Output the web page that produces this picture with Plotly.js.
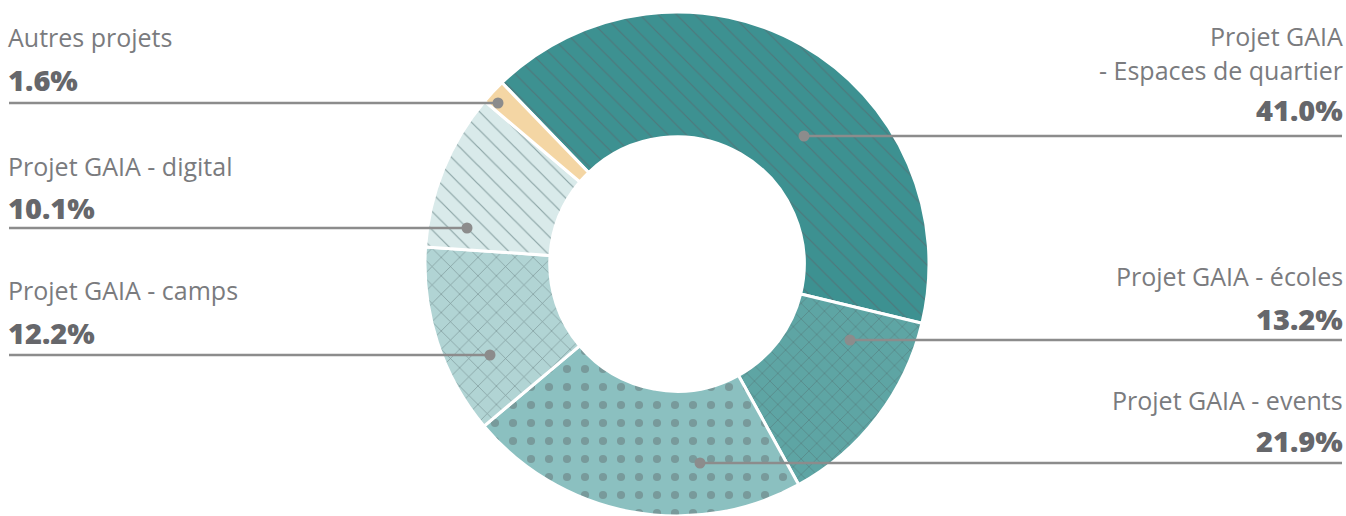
<!DOCTYPE html>
<html>
<head>
<meta charset="utf-8">
<script src="https://cdn.plot.ly/plotly-3.0.1.min.js"></script>
<style>html,body{margin:0;padding:0;background:#fff;}#chart{width:1346px;height:516px;}</style>
</head>
<body>
<div id="chart"></div>
<script>
// ---- data ----
var categories = ['Projet GAIA - Espaces de quartier', 'Projet GAIA - écoles', 'Projet GAIA - events', 'Projet GAIA - camps', 'Projet GAIA - digital', 'Autres projets'];
var shares = [41.0, 13.2, 21.9, 12.2, 10.1, 1.6];
var labelLines = [['Projet GAIA', '- Espaces de quartier'], ['Projet GAIA - écoles'], ['Projet GAIA - events'], ['Projet GAIA - camps'], ['Projet GAIA - digital'], ['Autres projets']];

// ---- styles ----
var sliceColors = ['#3d9191', '#5ea5a4', '#8bc0c0', '#b1d4d4', '#d9eaea', '#f4d6a4'];
var patShapes = ['\\', 'x', '.', 'x', '\\', ''];
var patFg = ['#4f777b', '#557b7d', '#789a9b', '#7a9496', '#8aa3a4', '#f4d6a4'];
var patSize = [13, 11, 18, 13, 13, 8];
var patSolid = [0.09, 0.1, 0.16, 0.1, 0.09, 0.1];

var W = 1346, H = 516;
function px(x) { return x / W; }
function py(y) { return 1 - y / H; }

var layoutInfo = [
  {side: 'right', labelY: [36, 70], pctY: 110, lineY: 136, dotX: 804},
  {side: 'right', labelY: [276], pctY: 318, lineY: 340, dotX: 850},
  {side: 'right', labelY: [400], pctY: 440, lineY: 463, dotX: 700},
  {side: 'left', labelY: [290], pctY: 332, lineY: 355, dotX: 490},
  {side: 'left', labelY: [166], pctY: 207, lineY: 228, dotX: 467},
  {side: 'left', labelY: [37], pctY: 79, lineY: 103, dotX: 498}
];

var labelFont = {family: 'Open Sans, sans-serif', size: 25, color: '#7a7b7e'};
var pctFont = {family: 'Open Sans, sans-serif', size: 29, color: '#66676b', weight: 800};
var lineColor = '#8c8c8c';

var annotations = [], shapes = [];
categories.forEach(function (c, i) {
  var L = layoutInfo[i];
  var right = L.side === 'right';
  var tx = right ? px(1344) : px(7);
  labelLines[i].forEach(function (t, k) {
    annotations.push({xref: 'paper', yref: 'paper', x: tx, y: py(L.labelY[k]), xanchor: right ? 'right' : 'left', yanchor: 'middle', text: t, showarrow: false, font: labelFont, borderpad: 0});
  });
  annotations.push({xref: 'paper', yref: 'paper', x: tx, y: py(L.pctY), xanchor: right ? 'right' : 'left', yanchor: 'middle', text: shares[i].toFixed(1) + '%', showarrow: false, font: pctFont, borderpad: 0});
  shapes.push({type: 'line', xref: 'paper', yref: 'paper', x0: right ? px(L.dotX) : px(9), x1: right ? px(1342) : px(L.dotX), y0: py(L.lineY), y1: py(L.lineY), line: {color: lineColor, width: 2.5}});
  shapes.push({type: 'circle', xref: 'paper', yref: 'paper', x0: px(L.dotX - 5.5), x1: px(L.dotX + 5.5), y0: py(L.lineY + 5.5), y1: py(L.lineY - 5.5), fillcolor: lineColor, line: {width: 0}});
});

var trace = {
  type: 'pie',
  labels: categories,
  values: shares,
  sort: false,
  direction: 'clockwise',
  rotation: -44,
  hole: 0.505,
  textinfo: 'none',
  hoverinfo: 'label+percent',
  showlegend: false,
  domain: {x: [px(677 - 252), px(677 + 252)], y: [0, py(12)]},
  marker: {
    colors: sliceColors,
    line: {color: '#ffffff', width: 3},
    pattern: {shape: patShapes, fgcolor: patFg, bgcolor: sliceColors, size: patSize, solidity: patSolid, fillmode: 'replace'}
  }
};

var layout = {
  width: W, height: H,
  margin: {l: 0, r: 0, t: 0, b: 0},
  paper_bgcolor: '#ffffff',
  plot_bgcolor: '#ffffff',
  annotations: annotations,
  shapes: shapes
};

Plotly.newPlot('chart', [trace], layout, {displayModeBar: false, staticPlot: true});
</script>
</body>
</html>
